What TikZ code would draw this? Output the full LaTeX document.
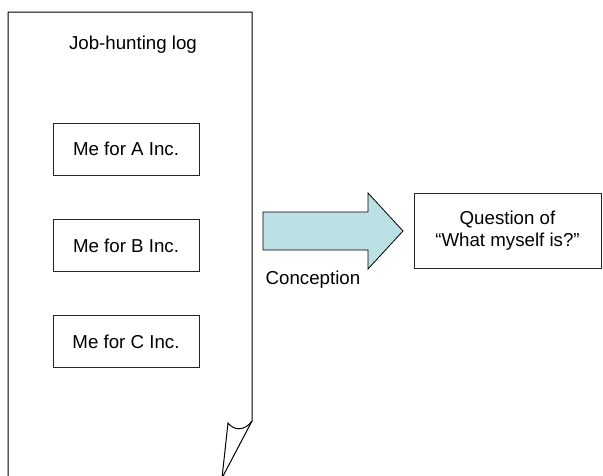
\documentclass[tikz,border=0pt]{standalone}
\usepackage{fontspec}
\setmainfont{Liberation Sans}
\usetikzlibrary{positioning}
\definecolor{concept}{RGB}{187,224,227}

\begin{document}
\begin{tikzpicture}[x=1pt,y=-1pt,
  doc/.style={draw=black,line width=1pt,line join=miter},
  bx/.style={draw=black!85,line width=1pt,fill=white,
             minimum width=146pt,minimum height=52pt,inner sep=0pt,
             font=\fontsize{18.7}{22}\selectfont,align=center},
  lbl/.style={font=\fontsize{18.7}{22}\selectfont,inner sep=0pt,align=center},
  blk/.style={draw=black,line width=0.8pt,fill=concept,line join=miter}
]
\clip (0,0) rectangle (603,475);

% the log sheet, running off the bottom
\draw[doc] (8,478) -- (8,12) -- (252,12) -- (252,421)
    .. controls (245,431) and (234,431) .. (228,423) -- (222,478);
\draw[doc] (222,478) -- (252,421);

\node[lbl] (title) at (133,45) {Job-hunting log};

\node[bx] (meA) at (126,149)   {Me for A Inc.};
\node[bx] (meB) at (126,245.5) {Me for B Inc.};
\node[bx] (meC) at (126,341.5) {Me for C Inc.};

% block arrow
\draw[blk] (263,212) -- (368,212) -- (368,193) -- (403,231)
    -- (368,269) -- (368,250) -- (263,250) -- cycle;
\node[lbl] (concept) at (313,280) {Conception};

\node[bx,minimum width=187pt,minimum height=75pt] (question) at (507.5,230.5)
    {Question of\\``What myself is?''};

\end{tikzpicture}
\end{document}
